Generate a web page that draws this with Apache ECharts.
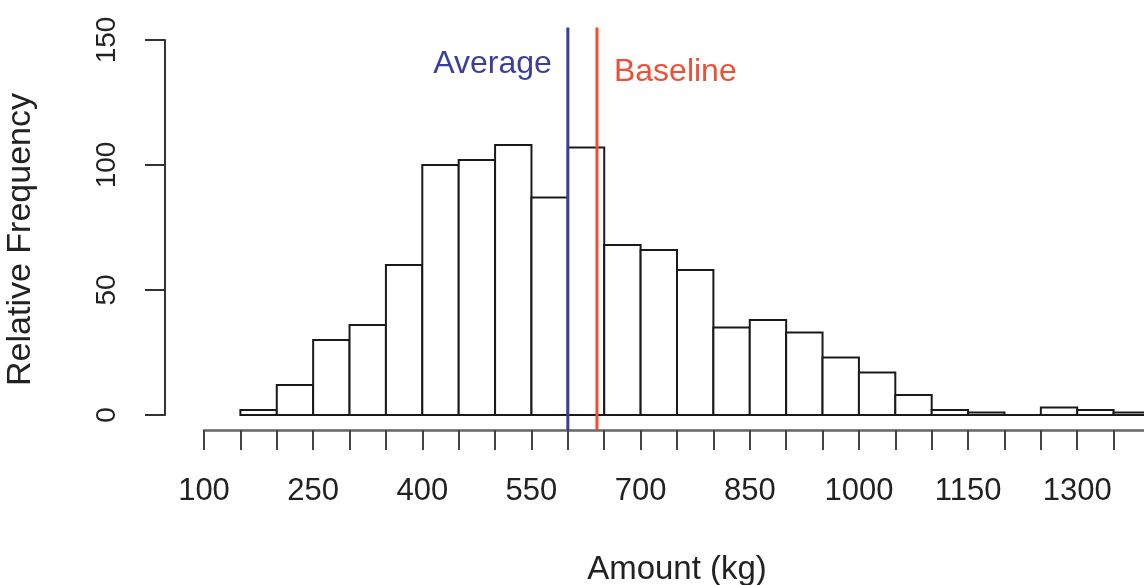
<!DOCTYPE html>
<html>
<head>
<meta charset="utf-8">
<script src="https://cdn.jsdelivr.net/npm/echarts@6/dist/echarts.min.js"></script>
<style>
html,body{margin:0;padding:0;background:#fff;}
#chart{width:1144px;height:585px;}
</style>
</head>
<body>
<div id="chart"></div>
<script>
// Histogram bins (left edges, width 50 kg) and counts
const binStarts = [150, 200, 250, 300, 350, 400, 450, 500, 550, 600, 650, 700, 750, 800, 850, 900, 950, 1000, 1050, 1100, 1150, 1200, 1250, 1300, 1350];
const binWidth = 50;
const counts = [2, 12, 30, 36, 60, 100, 102, 108, 87, 107, 68, 66, 58, 35, 38, 33, 23, 17, 8, 2, 1, 0, 3, 2, 1];
// Reference lines
const averageValue = 600;
const baselineValue = 640;
// Axis settings
const xTicksMin = 100, xTicksMax = 1400, xTickStep = 50, xLabelStep = 150;
const yTicks = [0, 50, 100, 150];

const FONT = 'Liberation Sans, Arial, Helvetica, sans-serif';

const histData = binStarts.map((s, i) => [s, s + binWidth, counts[i]]);

const chart = echarts.init(document.getElementById('chart'), null, {renderer: 'canvas'});
chart.setOption({
  animation: false,
  backgroundColor: '#ffffff',
  grid: {left: 204, top: 40, width: 946, height: 375, containLabel: false, outerBoundsMode: 'none'},
  xAxis: {
    type: 'value',
    min: xTicksMin, max: xTicksMax, interval: xTickStep,
    offset: 15,
    name: 'Amount (kg)',
    nameLocation: 'middle',
    nameGap: 123,
    nameTextStyle: {fontFamily: FONT, fontSize: 33, color: '#222'},
    axisLine: {show: true, onZero: false, lineStyle: {color: '#666', width: 2.5}},
    axisTick: {show: true, length: 20, lineStyle: {color: '#444', width: 2}},
    axisLabel: {
      margin: 46, fontFamily: FONT, fontSize: 31, color: '#222',
      showMaxLabel: false,
      formatter: v => ((v - xTicksMin) % xLabelStep === 0 ? String(v) : '')
    },
    splitLine: {show: false}
  },
  yAxis: {
    type: 'value',
    min: yTicks[0], max: yTicks[yTicks.length - 1], interval: yTicks[1] - yTicks[0],
    position: 'left',
    offset: 39,
    name: 'Relative Frequency',
    nameLocation: 'middle',
    nameGap: 127,
    nameRotate: 90,
    nameTextStyle: {fontFamily: FONT, fontSize: 34, color: '#222', padding: [0, 24, 0, 0]},
    axisLine: {show: true, onZero: false, lineStyle: {color: '#333', width: 2}},
    axisTick: {show: true, length: 20, lineStyle: {color: '#333', width: 2}},
    axisLabel: {rotate: 90, margin: 44, fontFamily: FONT, fontSize: 28, color: '#222'},
    splitLine: {show: false}
  },
  series: [
    {
      type: 'custom',
      clip: false,
      data: histData,
      encode: {x: [0, 1], y: 2},
      renderItem: function (params, api) {
        const p0 = api.coord([api.value(0), api.value(2)]);
        const p1 = api.coord([api.value(1), 0]);
        return {
          type: 'rect',
          shape: {x: p0[0], y: p0[1], width: p1[0] - p0[0], height: p1[1] - p0[1]},
          style: {fill: '#ffffff', stroke: '#1a1a1a', lineWidth: 2}
        };
      }
    },
    {
      type: 'line',
      clip: false,
      symbol: 'circle',
      symbolSize: 0.01,
      showSymbol: true,
      lineStyle: {color: '#3b3c9c', width: 3},
      itemStyle: {color: '#3b3c9c'},
      data: [
        {value: [averageValue, -6]},
        {value: [averageValue, 155], label: {show: true, position: 'left', distance: 16, offset: [0, 37],
          formatter: 'Average', fontFamily: FONT, fontSize: 32, color: '#3a3f9e'}}
      ],
      z: 5
    },
    {
      type: 'line',
      clip: false,
      symbol: 'circle',
      symbolSize: 0.01,
      showSymbol: true,
      lineStyle: {color: '#f0502e', width: 3},
      itemStyle: {color: '#f0502e'},
      data: [
        {value: [baselineValue, -6]},
        {value: [baselineValue, 155], label: {show: true, position: 'right', distance: 17, offset: [0, 45],
          formatter: 'Baseline', fontFamily: FONT, fontSize: 32, color: '#ef4f35'}}
      ],
      z: 5
    }
  ]
});
</script>
</body>
</html>
